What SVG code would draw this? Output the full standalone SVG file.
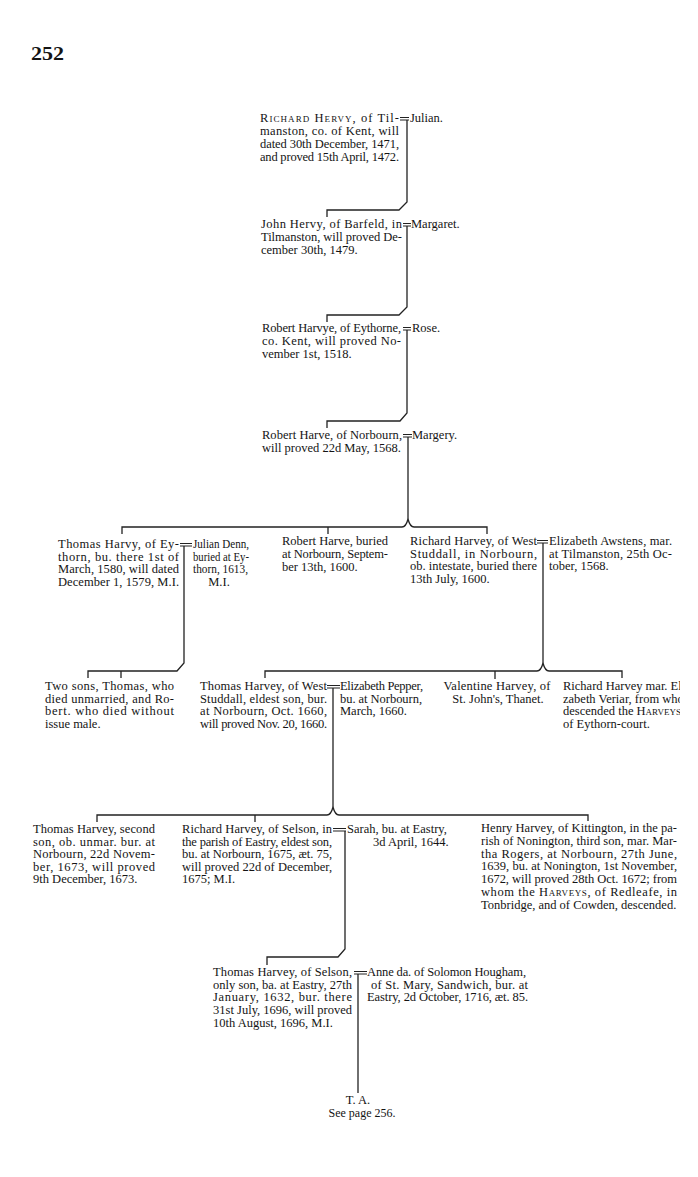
<svg xmlns="http://www.w3.org/2000/svg" width="698" height="1177" viewBox="0 0 698 1177">
<style>
.t{font-family:"Liberation Serif","Times New Roman",serif;font-size:12.5px;fill:#141414}
.sc{font-variant:small-caps}
.c{fill:none;stroke:#222;stroke-width:1.3}
.m{fill:none;stroke:#222;stroke-width:1}
.pg{font-family:"Liberation Serif","Times New Roman",serif;font-size:19px;font-weight:bold;fill:#141414}
</style>
<defs>
<clipPath id="edge"><rect x="0" y="0" width="680" height="1177"/></clipPath>
</defs>
<rect x="0" y="0" width="698" height="1177" fill="#ffffff"/>
<text class="pg" x="31" y="60" textLength="33" lengthAdjust="spacingAndGlyphs">252</text>

<g id="connectors">
<path class="c" d="M407 120V202L399 210H327V217"/>
<path class="c" d="M407 226V307L399 315H327V322"/>
<path class="c" d="M407 330V413L400 421H327V428"/>
<path class="c" d="M408 437V519"/>
<path class="c" d="M122 534V527H402Q406 527 408 519Q410 527 414 527H487V534M328 527V534"/>
<path class="c" d="M184 546V663L177 671H88V678M121 671V678"/>
<path class="c" d="M543 543V663"/>
<path class="c" d="M265 678V671H537Q541 671 543 663Q545 671 549 671H622V678M495 671V679"/>
<path class="c" d="M333 688V807"/>
<path class="c" d="M97 822V815H327Q331 815 333 807Q335 815 339 815H588V821M255 815V822"/>
<path class="c" d="M345 831V949L338 957H267V965"/>
<path class="c" d="M358 974V1093"/>
<path class="m" d="M400 117.5H409M400 120H409"/>
<path class="m" d="M403 223.5H411M403 226H411"/>
<path class="m" d="M403 327.5H411M403 330H411"/>
<path class="m" d="M403 434.5H412M403 437H412"/>
<path class="m" d="M180 543.5H192M180 546H192"/>
<path class="m" d="M537 540.5H548M537 543H548"/>
<path class="m" d="M327 685.5H340M327 688H340"/>
<path class="m" d="M333 828.5H346M333 831H346"/>
<path class="m" d="M354 971.5H367M354 974H367"/>
</g>

<g id="n-richard-hervy" class="t">
<text x="260" y="122" textLength="139"><tspan class="sc">Richard Hervy</tspan>, of Til-</text>
<text x="260" y="135" textLength="139">manston, co. of Kent, will</text>
<text x="260" y="148" textLength="139">dated 30th December, 1471,</text>
<text x="260" y="161" textLength="139">and proved 15th April, 1472.</text>
</g>
<g id="n-julian" class="t"><text x="410" y="122">Julian.</text></g>

<g id="n-john-hervy" class="t">
<text x="261" y="228" textLength="141">John Hervy, of Barfeld, in</text>
<text x="261" y="241" textLength="141">Tilmanston, will proved De-</text>
<text x="261" y="254">cember 30th, 1479.</text>
</g>
<g id="n-margaret" class="t"><text x="411" y="228">Margaret.</text></g>

<g id="n-robert-harvye" class="t">
<text x="262" y="332" textLength="139">Robert Harvye, of Eythorne,</text>
<text x="262" y="345" textLength="139">co. Kent, will proved No-</text>
<text x="262" y="358">vember 1st, 1518.</text>
</g>
<g id="n-rose" class="t"><text x="412" y="332">Rose.</text></g>

<g id="n-robert-harve" class="t">
<text x="262" y="439" textLength="140">Robert Harve, of Norbourn,</text>
<text x="262" y="452">will proved 22d May, 1568.</text>
</g>
<g id="n-margery" class="t"><text x="412" y="439">Margery.</text></g>

<g id="n-thomas-harvy" class="t">
<text x="58" y="548" textLength="121">Thomas Harvy, of Ey-</text>
<text x="58" y="560.5" textLength="121">thorn, bu. there 1st of</text>
<text x="58" y="573" textLength="121">March, 1580, will dated</text>
<text x="58" y="585.5" textLength="121">December 1, 1579, M.I.</text>
</g>
<g id="n-julian-denn" class="t">
<text x="193" y="548" textLength="56" lengthAdjust="spacingAndGlyphs">Julian Denn,</text>
<text x="193" y="560.5" textLength="56" lengthAdjust="spacingAndGlyphs">buried at Ey-</text>
<text x="193" y="573" textLength="55" lengthAdjust="spacingAndGlyphs">thorn, 1613,</text>
<text x="219" y="585.5" text-anchor="middle">M.I.</text>
</g>

<g id="n-robert-harve-buried" class="t">
<text x="282" y="545" textLength="106">Robert Harve, buried</text>
<text x="282" y="558" textLength="106">at Norbourn, Septem-</text>
<text x="282" y="571">ber 13th, 1600.</text>
</g>

<g id="n-richard-harvey-west" class="t">
<text x="410" y="545" textLength="127">Richard Harvey, of West</text>
<text x="410" y="557.5" textLength="127">Studdall, in Norbourn,</text>
<text x="410" y="570" textLength="127">ob. intestate, buried there</text>
<text x="410" y="582.5">13th July, 1600.</text>
</g>
<g id="n-elizabeth-awstens" class="t">
<text x="549" y="545" textLength="123">Elizabeth Awstens, mar.</text>
<text x="549" y="557.5" textLength="123">at Tilmanston, 25th Oc-</text>
<text x="549" y="570">tober, 1568.</text>
</g>

<g id="n-two-sons" class="t">
<text x="45" y="690" textLength="129">Two sons, Thomas, who</text>
<text x="45" y="702.5" textLength="129">died unmarried, and Ro-</text>
<text x="45" y="715" textLength="129">bert. who died without</text>
<text x="45" y="727.5">issue male.</text>
</g>

<g id="n-thomas-harvey-west" class="t">
<text x="200" y="690" textLength="127">Thomas Harvey, of West</text>
<text x="200" y="702.5" textLength="127">Studdall, eldest son, bur.</text>
<text x="200" y="715" textLength="127">at Norbourn, Oct. 1660,</text>
<text x="200" y="727.5" textLength="127">will proved Nov. 20, 1660.</text>
</g>
<g id="n-elizabeth-pepper" class="t">
<text x="340" y="690" textLength="83">Elizabeth Pepper,</text>
<text x="340" y="702.5" textLength="82">bu. at Norbourn,</text>
<text x="340" y="715">March, 1660.</text>
</g>

<g id="n-valentine" class="t">
<text x="497" y="690" text-anchor="middle" textLength="107">Valentine Harvey, of</text>
<text x="498" y="702.5" text-anchor="middle">St. John's, Thanet.</text>
</g>

<g id="n-richard-harvey-mar" class="t" clip-path="url(#edge)">
<text x="563" y="690">Richard Harvey mar. Eli-</text>
<text x="563" y="702.5">zabeth Veriar, from whom</text>
<text x="563" y="715">descended the <tspan class="sc">Harveys</tspan></text>
<text x="563" y="727.5">of Eythorn-court.</text>
</g>

<g id="n-thomas-harvey-second" class="t">
<text x="33" y="833" textLength="122">Thomas Harvey, second</text>
<text x="33" y="845.5" textLength="122">son, ob. unmar. bur. at</text>
<text x="33" y="858" textLength="122">Norbourn, 22d Novem-</text>
<text x="33" y="870.5" textLength="122">ber, 1673, will proved</text>
<text x="33" y="883">9th December, 1673.</text>
</g>

<g id="n-richard-harvey-selson" class="t">
<text x="182" y="833" textLength="150">Richard Harvey, of Selson, in</text>
<text x="182" y="845.5" textLength="150">the parish of Eastry, eldest son,</text>
<text x="182" y="858" textLength="150">bu. at Norbourn, 1675, æt. 75,</text>
<text x="182" y="870.5" textLength="150">will proved 22d of December,</text>
<text x="182" y="883">1675; M.I.</text>
</g>
<g id="n-sarah" class="t">
<text x="347" y="833">Sarah, bu. at Eastry,</text>
<text x="373" y="845.5">3d April, 1644.</text>
</g>

<g id="n-henry-harvey" class="t">
<text x="481" y="832" textLength="196">Henry Harvey, of Kittington, in the pa-</text>
<text x="481" y="844.8" textLength="196">rish of Nonington, third son, mar. Mar-</text>
<text x="481" y="857.6" textLength="196">tha Rogers, at Norbourn, 27th June,</text>
<text x="481" y="870.4" textLength="196">1639, bu. at Nonington, 1st November,</text>
<text x="481" y="883.2" textLength="196">1672, will proved 28th Oct. 1672; from</text>
<text x="481" y="896" textLength="196">whom the <tspan class="sc">Harveys</tspan>, of Redleafe, in</text>
<text x="481" y="908.8">Tonbridge, and of Cowden, descended.</text>
</g>

<g id="n-thomas-harvey-selson" class="t">
<text x="213" y="976" textLength="139">Thomas Harvey, of Selson,</text>
<text x="213" y="988.7" textLength="139">only son, ba. at Eastry, 27th</text>
<text x="213" y="1001.4" textLength="139">January, 1632, bur. there</text>
<text x="213" y="1014" textLength="139">31st July, 1696, will proved</text>
<text x="213" y="1027">10th August, 1696, M.I.</text>
</g>
<g id="n-anne" class="t">
<text x="367" y="976" textLength="159">Anne da. of Solomon Hougham,</text>
<text x="371" y="988.7" textLength="157">of St. Mary, Sandwich, bur. at</text>
<text x="367" y="1001.4" textLength="161">Eastry, 2d October, 1716, æt. 85.</text>
</g>

<g id="n-ta" class="t">
<text x="358" y="1104" text-anchor="middle">T. A.</text>
<text x="362" y="1116.5" text-anchor="middle" style="font-size:12px">See page 256.</text>
</g>
</svg>
